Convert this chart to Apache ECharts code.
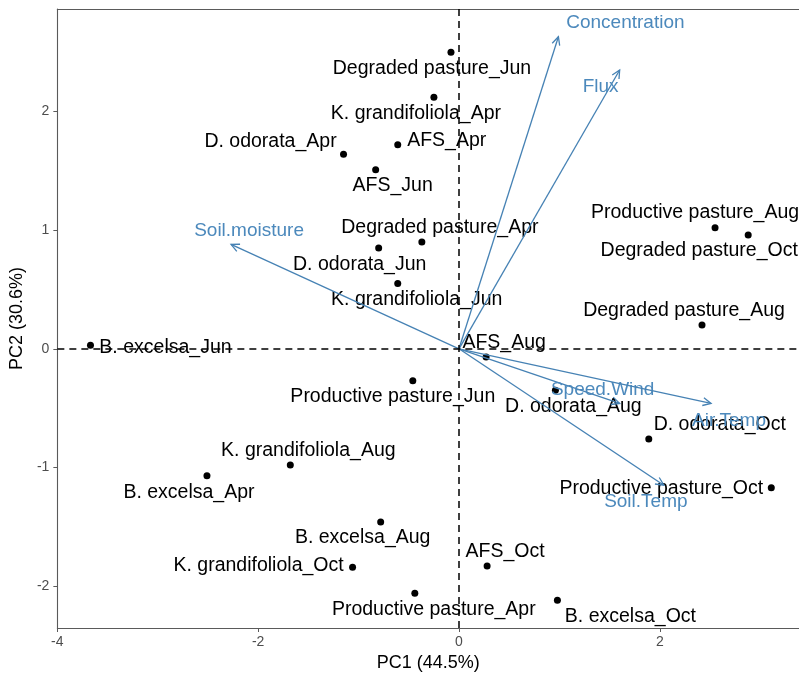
<!DOCTYPE html>
<html>
<head>
<meta charset="utf-8">
<script src="https://cdn.jsdelivr.net/npm/echarts@6/dist/echarts.min.js"></script>
<style>
  html, body { margin: 0; padding: 0; background: #fff; }
  #chart { width: 799px; height: 678px; }
</style>
</head>
<body>
<div id="chart"></div>
<script>
// PCA biplot: sample scores (PC1, PC2) and variable loadings

const sampleNames = [
  'Degraded pasture_Jun', 'K. grandifoliola_Apr', 'D. odorata_Apr', 'AFS_Apr',
  'AFS_Jun', 'Degraded pasture_Apr', 'D. odorata_Jun', 'K. grandifoliola_Jun',
  'Productive pasture_Aug', 'Degraded pasture_Oct', 'Degraded pasture_Aug', 'B. excelsa_Jun',
  'AFS_Aug', 'Productive pasture_Jun', 'D. odorata_Aug', 'D. odorata_Oct',
  'Productive pasture_Oct', 'K. grandifoliola_Aug', 'B. excelsa_Apr', 'B. excelsa_Aug',
  'K. grandifoliola_Oct', 'AFS_Oct', 'Productive pasture_Apr', 'B. excelsa_Oct'
];
const pc1 = [
  -0.08, -0.25, -1.15, -0.61,
  -0.83, -0.37, -0.80, -0.61,
   2.55,  2.88,  2.42, -3.67,
   0.27, -0.46,  0.96,  1.89,
   3.11, -1.68, -2.51, -0.78,
  -1.06,  0.28, -0.44,  0.98
];
const pc2 = [
   2.50,  2.12,  1.64,  1.72,
   1.51,  0.90,  0.85,  0.55,
   1.02,  0.96,  0.20,  0.03,
  -0.07, -0.27, -0.35, -0.76,
  -1.17, -0.98, -1.07, -1.46,
  -1.84, -1.83, -2.06, -2.12
];

const varNames = ['Concentration', 'Flux', 'Soil.moisture', 'Speed.Wind', 'Air.Temp', 'Soil.Temp'];
const loadPC1 = [0.99, 1.60, -2.27, 1.60, 2.51, 2.04];
const loadPC2 = [2.63, 2.35, 0.88, -0.46, -0.46, -1.15];

const xTicks = [-4, -2, 0, 2];
const yTicks = [-2, -1, 0, 1, 2];

// text placement (pixel shift of each label centre from its mark)
const sampleLabelShift = [
  [-19, 16], [-18, 16], [-73, -13], [49, -4],
  [17, 16], [18, -14], [-19, 17], [19, 16],
  [-20, -15], [-49, 16], [-18, -14], [75, 2],
  [18, -14], [-20, 16], [18, 16], [71, -14],
  [-110, 1], [18, -14], [-18, 17], [-18, 16],
  [-94, -2], [18, -14], [19, 16], [73, 16]
];
const varLabelShift = [
  [67, -14], [-19, 17], [18, -14], [-17, -14], [18, 17], [-18, 17]
];

const FONT = '"Liberation Sans", Arial, sans-serif';
const ARROW = '#4682B4';
const ARROW_TEXT = '#4C89BC';
const AXIS = '#5a5a5a';

const samplePoints = sampleNames.map((n, i) => ({ name: n, value: [pc1[i], pc2[i], i] }));
const loadings = varNames.map((n, i) => ({ name: n, value: [loadPC1[i], loadPC2[i], i] }));

const chart = echarts.init(document.getElementById('chart'), null, { renderer: 'canvas' });

chart.setOption({
  animation: false,
  backgroundColor: '#ffffff',
  grid: { left: 57, right: 0, top: 9, bottom: 50, containLabel: false },
  xAxis: [{
    type: 'value',
    min: -4, max: 3.386,
    name: 'PC1 (44.5%)',
    nameLocation: 'middle',
    nameGap: 22,
    nameTextStyle: { fontFamily: FONT, fontSize: 18, color: '#000' },
    splitLine: { show: false },
    axisLine: { show: true, onZero: false, lineStyle: { color: AXIS, width: 1.1 } },
    axisTick: { show: true, length: 4, lineStyle: { color: AXIS }, customValues: xTicks },
    axisLabel: { fontFamily: FONT, fontSize: 14, color: '#4d4d4d', margin: 7, customValues: xTicks }
  }, {
    type: 'value',
    position: 'top',
    min: -4, max: 3.386,
    splitLine: { show: false },
    axisLine: { show: true, onZero: false, lineStyle: { color: AXIS, width: 1.1 } },
    axisTick: { show: false },
    axisLabel: { show: false }
  }],
  yAxis: {
    type: 'value',
    min: -2.353, max: 2.864,
    name: 'PC2 (30.6%)',
    nameLocation: 'middle',
    nameGap: 29,
    nameTextStyle: { fontFamily: FONT, fontSize: 18, color: '#000' },
    splitLine: { show: false },
    axisLine: { show: true, onZero: false, lineStyle: { color: AXIS, width: 1.1 } },
    axisTick: { show: true, length: 4, lineStyle: { color: AXIS }, customValues: yTicks },
    axisLabel: { fontFamily: FONT, fontSize: 14, color: '#4d4d4d', margin: 8, customValues: yTicks }
  },
  series: [
    {
      // sample scores
      type: 'scatter',
      z: 2,
      symbol: 'circle',
      symbolSize: 7,
      itemStyle: { color: '#000', opacity: 1 },
      data: samplePoints
    },
    {
      // sample names beside their points
      type: 'custom',
      z: 2,
      data: samplePoints,
      renderItem: function (params, api) {
        const p = api.coord([api.value(0), api.value(1)]);
        const idx = api.value(2);
        const sh = sampleLabelShift[idx];
        return {
          type: 'text', x: p[0] + sh[0], y: p[1] + sh[1],
          style: { text: sampleNames[idx], fill: '#000', font: '19.5px ' + FONT,
                   textAlign: 'center', textVerticalAlign: 'middle' }
        };
      }
    },
    {
      // reference lines through the origin
      type: 'line',
      z: 3,
      data: [],
      markLine: {
        silent: true,
        symbol: 'none',
        label: { show: false },
        lineStyle: { color: '#000', type: [7, 5], width: 1.5, opacity: 1 },
        data: [{ xAxis: 0 }, { yAxis: 0 }]
      }
    },
    {
      // loading vectors with open arrowheads
      type: 'custom',
      z: 4,
      data: loadings,
      renderItem: function (params, api) {
        const o = api.coord([0, 0]);
        const t = api.coord([api.value(0), api.value(1)]);
        const idx = api.value(2);
        const ang = Math.atan2(t[1] - o[1], t[0] - o[0]);
        const hl = 9, ha = Math.PI / 7;
        const p1 = [t[0] - hl * Math.cos(ang - ha), t[1] - hl * Math.sin(ang - ha)];
        const p2 = [t[0] - hl * Math.cos(ang + ha), t[1] - hl * Math.sin(ang + ha)];
        const sh = varLabelShift[idx];
        return {
          type: 'group',
          children: [
            { type: 'line', shape: { x1: o[0], y1: o[1], x2: t[0], y2: t[1] },
              style: { stroke: ARROW, lineWidth: 1.3 } },
            { type: 'polyline', shape: { points: [p1, t, p2] },
              style: { stroke: ARROW, lineWidth: 1.3, fill: null } },
            { type: 'text', x: t[0] + sh[0], y: t[1] + sh[1],
              style: { text: varNames[idx], fill: ARROW_TEXT, font: '19px ' + FONT,
                       textAlign: 'center', textVerticalAlign: 'middle' } }
          ]
        };
      }
    }
  ]
});
</script>
</body>
</html>
